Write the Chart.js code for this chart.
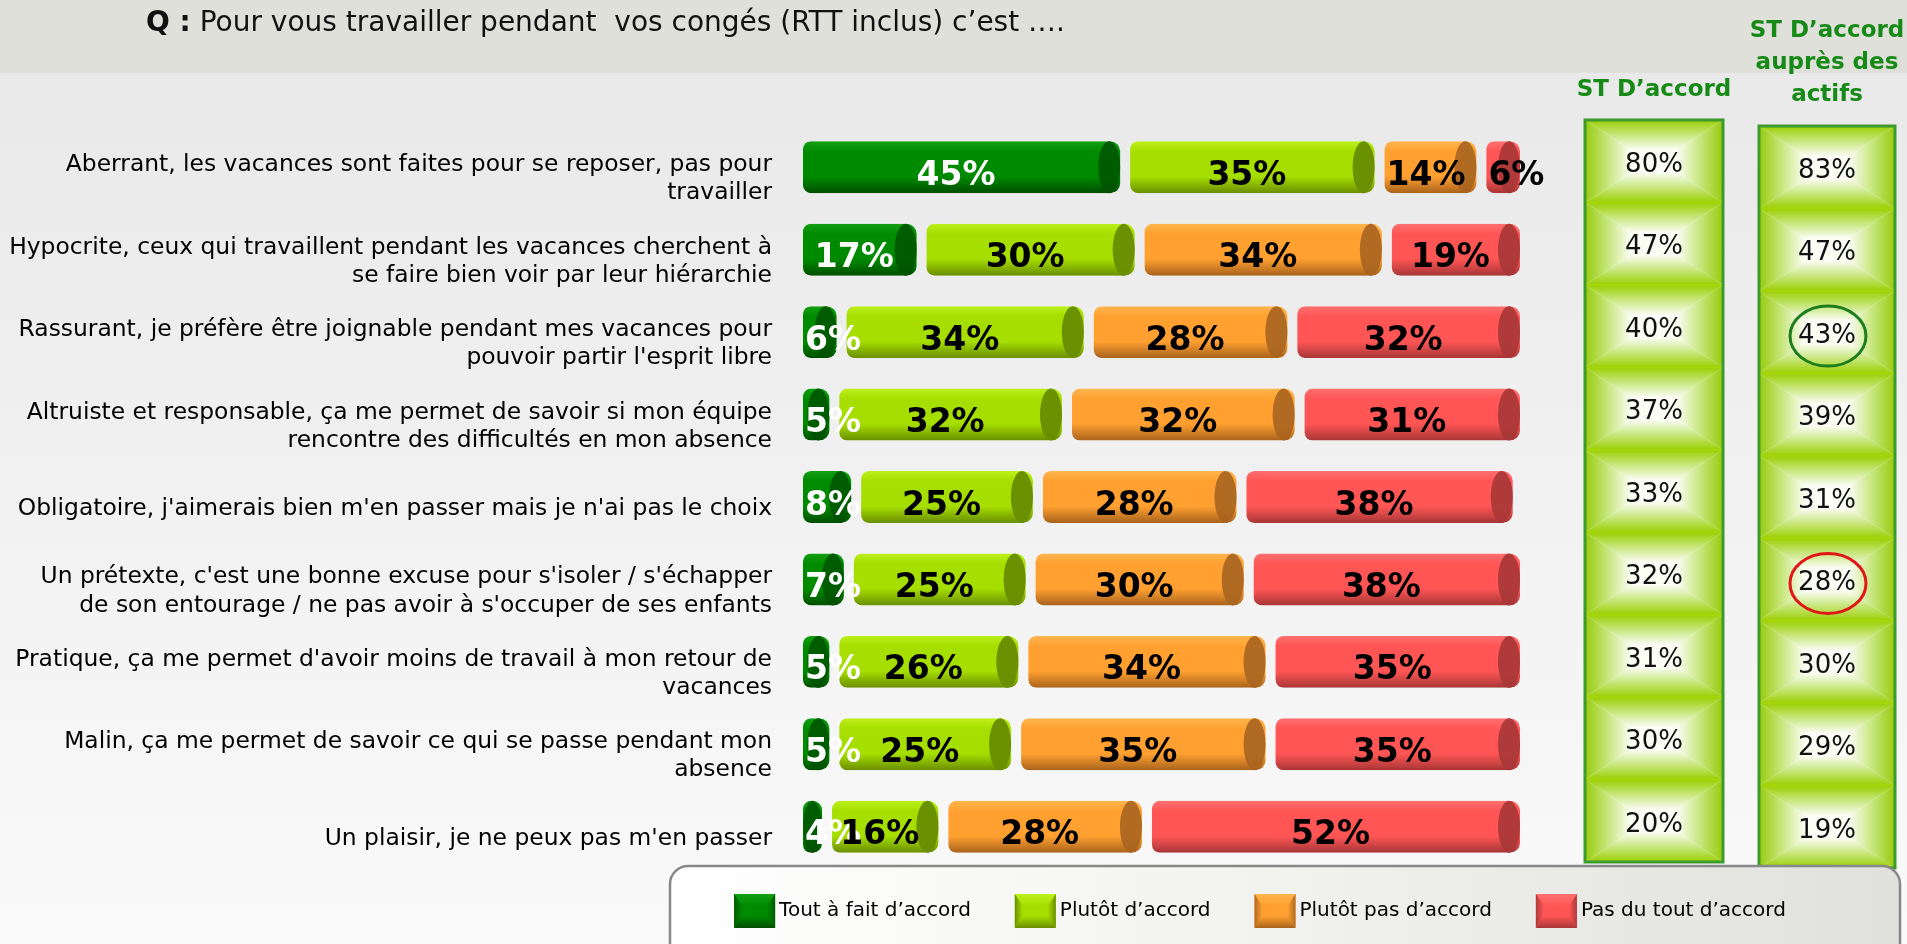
<!DOCTYPE html>
<html lang="fr">
<head>
<meta charset="utf-8">
<title>Travailler pendant ses congés</title>
<script src="https://cdn.jsdelivr.net/npm/chart.js@4/dist/chart.umd.min.js"></script>
<style>
  html, body { margin: 0; padding: 0; background: #ebebeb; overflow: hidden; }
  canvas { display: block; }
</style>
</head>
<body>
<canvas id="congesChart" width="1907" height="944"></canvas>
<script>
// --- data ---
const statements = [
  ['Aberrant, les vacances sont faites pour se reposer, pas pour', 'travailler'],
  ['Hypocrite, ceux qui travaillent pendant les vacances cherchent à', 'se faire bien voir par leur hiérarchie'],
  ['Rassurant, je préfère être joignable pendant mes vacances pour', 'pouvoir partir l\'esprit libre'],
  ['Altruiste et responsable, ça me permet de savoir si mon équipe', 'rencontre des difficultés en mon absence'],
  'Obligatoire, j\'aimerais bien m\'en passer mais je n\'ai pas le choix',
  ['Un prétexte, c\'est une bonne excuse pour s\'isoler / s\'échapper', 'de son entourage / ne pas avoir à s\'occuper de ses enfants'],
  ['Pratique, ça me permet d\'avoir moins de travail à mon retour de', 'vacances'],
  ['Malin, ça me permet de savoir ce qui se passe pendant mon', 'absence'],
  'Un plaisir, je ne peux pas m\'en passer'
];
const seriesLabels = ['Tout à fait d’accord', 'Plutôt d’accord', 'Plutôt pas d’accord', 'Pas du tout d’accord'];
const toutAFait = [45, 17, 6, 5, 8, 7, 5, 5, 4];
const plutotDaccord = [35, 30, 34, 32, 25, 25, 26, 25, 16];
const plutotPas = [14, 34, 28, 32, 28, 30, 34, 35, 28];
const pasDuTout = [6, 19, 32, 31, 38, 38, 35, 35, 52];
const stAccord = [80, 47, 40, 37, 33, 32, 31, 30, 20];
const stActifs = [83, 47, 43, 39, 31, 28, 30, 29, 19];
const circled = { 2: '#1e7d1e', 5: '#e01818' };   // row index -> ring colour (2nd column)

const titleLead = 'Q :';
const titleText = ' Pour vous travailler pendant  vos congés (RTT inclus) c’est ….';
const colHeaders = [['ST D’accord'], ['ST D’accord', 'auprès des', 'actifs']];

// cylinder colours
const palette = [
  { light: '#12a012', main: '#008a00', dark: '#004f00', cap: '#005c00', text: '#ffffff' },
  { light: '#bdf01a', main: '#a6de00', dark: '#6a8e00', cap: '#6b9000', text: '#000000' },
  { light: '#ffb64e', main: '#ffa030', dark: '#a9631c', cap: '#b06a22', text: '#000000' },
  { light: '#ff7070', main: '#ff5555', dark: '#a83636', cap: '#b03a3a', text: '#000000' }
];

const BAR_GAP = 5;
const FONT = '"DejaVu Sans", Verdana, sans-serif';

function barGradient(context, p) {
  const chart = context.chart;
  if (!chart.chartArea || context.dataIndex === undefined) return p.main;
  const yScale = chart.scales.y;
  const band = yScale.height / statements.length;
  const h = band * 0.63;
  const y = yScale.getPixelForValue(context.dataIndex);
  const g = chart.ctx.createLinearGradient(0, y - h / 2, 0, y + h / 2);
  g.addColorStop(0, p.light);
  g.addColorStop(0.2, p.main);
  g.addColorStop(0.68, p.main);
  g.addColorStop(1, p.dark);
  return g;
}

// bevelled box: four trapezoids shading from edge colour to the centre colour
function bevel(ctx, x, y, w, h, ix, iy, edges, centre, mid) {
  ctx.fillStyle = centre;
  ctx.fillRect(x, y, w, h);
  const sides = [
    { pts: [[x, y], [x + w, y], [x + w - ix, y + iy], [x + ix, y + iy]], g: [x, y, x, y + iy], c: edges.top },
    { pts: [[x, y + h], [x + w, y + h], [x + w - ix, y + h - iy], [x + ix, y + h - iy]], g: [x, y + h, x, y + h - iy], c: edges.bottom },
    { pts: [[x, y], [x + ix, y + iy], [x + ix, y + h - iy], [x, y + h]], g: [x, y, x + ix, y], c: edges.left },
    { pts: [[x + w, y], [x + w - ix, y + iy], [x + w - ix, y + h - iy], [x + w, y + h]], g: [x + w, y, x + w - ix, y], c: edges.right }
  ];
  sides.forEach(s => {
    const g = ctx.createLinearGradient(...s.g);
    g.addColorStop(0, s.c);
    if (mid) g.addColorStop(0.55, mid);
    g.addColorStop(1, centre);
    ctx.fillStyle = g;
    ctx.beginPath();
    s.pts.forEach(([px, py], k) => (k ? ctx.lineTo(px, py) : ctx.moveTo(px, py)));
    ctx.closePath();
    ctx.fill();
  });
}

const backdrop = {
  id: 'backdrop',
  beforeDraw(chart) {
    const { ctx, width, height } = chart;
    ctx.save();
    const bg = ctx.createLinearGradient(0, 73, 0, height);
    bg.addColorStop(0, '#e9e9e9');
    bg.addColorStop(1, '#fafafa');
    ctx.fillStyle = bg;
    ctx.fillRect(0, 0, width, height);
    ctx.fillStyle = '#dfe0da';
    ctx.fillRect(0, 0, width, 73);

    ctx.textBaseline = 'middle';
    ctx.textAlign = 'left';
    ctx.fillStyle = '#111';
    ctx.font = 'bold 28px ' + FONT;
    ctx.fillText(titleLead, 146, 24);
    const w = ctx.measureText(titleLead).width;
    ctx.font = '28px ' + FONT;
    ctx.fillText(titleText, 146 + w, 24);

    // column headers
    ctx.fillStyle = '#168a16';
    ctx.textAlign = 'center';
    ctx.font = 'bold 23px ' + FONT;
    const right = chart.chartArea.right;
    ctx.fillText(colHeaders[0][0], right + 129, 90);
    colHeaders[1].forEach((line, k) => ctx.fillText(line, right + 302, 31 + k * 32));
    ctx.restore();
  }
};

const cylinders = {
  id: 'cylinders',
  afterDatasetsDraw(chart) {
    const ctx = chart.ctx;
    const labels = [];
    chart.data.datasets.forEach((ds, di) => {
      const p = palette[di];
      chart.getDatasetMeta(di).data.forEach((bar, i) => {
        const { x, y, base, height } = bar.getProps(['x', 'y', 'base', 'height'], true);
        const left = Math.min(x, base) + BAR_GAP;
        const right = Math.max(x, base) - BAR_GAP;
        if (right <= left) return;
        const rx = Math.min(11, (right - left) / 2);
        ctx.save();
        const g = ctx.createLinearGradient(0, y - height / 2, 0, y + height / 2);
        g.addColorStop(0, p.cap);
        g.addColorStop(0.7, p.cap);
        g.addColorStop(1, p.dark);
        ctx.fillStyle = g;
        ctx.beginPath();
        ctx.ellipse(right - rx, y, rx, height / 2, 0, 0, Math.PI * 2);
        ctx.fill();
        ctx.restore();
        labels.push({ text: ds.data[i] + '%', left, right: right - rx, y, color: p.text });
      });
    });
    ctx.save();
    ctx.font = 'bold 33px ' + FONT;
    ctx.textAlign = 'center';
    ctx.textBaseline = 'middle';
    labels.forEach(l => {
      const tw = ctx.measureText(l.text).width;
      const cx = Math.max((l.left + l.right) / 2, l.left + tw / 2 + 2);
      ctx.fillStyle = l.color;
      ctx.fillText(l.text, cx, l.y + 9);
    });
    ctx.restore();
  }
};

const sideColumns = {
  id: 'sideColumns',
  afterDraw(chart) {
    const { ctx, chartArea } = chart;
    const yScale = chart.scales.y;
    const band = yScale.getPixelForValue(1) - yScale.getPixelForValue(0);
    const cols = [
      { values: stAccord, left: chartArea.right + 60, width: 138, shift: -6 },
      { values: stActifs, left: chartArea.right + 234, width: 136, shift: 0 }
    ];
    ctx.save();
    cols.forEach((col, ci) => {
      const cx = col.left + col.width / 2;
      col.values.forEach((v, i) => {
        const cy = yScale.getPixelForValue(i) + col.shift;
        const top = cy - band / 2;
        bevel(ctx, col.left, top, col.width, band, 46, 30,
          { top: '#9ccf04', bottom: '#9ccf04', left: '#98ca0c', right: '#98ca0c' }, '#fbfdf5', '#cde98a');
        ctx.strokeStyle = '#a6d60a';
        ctx.lineWidth = 2;
        ctx.beginPath();
        ctx.moveTo(col.left, top);
        ctx.lineTo(col.left + col.width, top);
        ctx.stroke();

        ctx.fillStyle = '#111';
        ctx.font = '26px ' + FONT;
        ctx.textAlign = 'center';
        ctx.textBaseline = 'middle';
        ctx.fillText(v + '%', cx, cy + 4);

        if (ci === 1 && circled[i]) {
          ctx.strokeStyle = circled[i];
          ctx.lineWidth = 3;
          ctx.beginPath();
          ctx.ellipse(cx + 1, cy + 4, 38, 30, 0, 0, Math.PI * 2);
          ctx.stroke();
        }
      });
      const top0 = yScale.getPixelForValue(0) + col.shift - band / 2;
      ctx.strokeStyle = '#3d9b2d';
      ctx.lineWidth = 3;
      ctx.strokeRect(col.left, top0, col.width, band * col.values.length);
    });
    ctx.restore();
  }
};

const legendBox = {
  id: 'legendBox',
  afterDraw(chart) {
    const ctx = chart.ctx;
    ctx.save();
    const lg = ctx.createLinearGradient(670, 0, 1900, 0);
    lg.addColorStop(0, '#ffffff');
    lg.addColorStop(0.45, '#f3f3f1');
    lg.addColorStop(1, '#e0e0dc');
    ctx.fillStyle = lg;
    ctx.strokeStyle = '#888888';
    ctx.lineWidth = 2.5;
    ctx.beginPath();
    ctx.roundRect(670, 866, 1230, 120, 18);
    ctx.fill();
    ctx.stroke();

    ctx.font = '20px ' + FONT;
    ctx.textBaseline = 'middle';
    ctx.textAlign = 'left';
    const items = chart.data.datasets.map(d => d.label);
    const sq = 41, textGap = 4, itemGap = 44;
    const total = items.reduce((s, t) => s + sq + textGap + ctx.measureText(t).width, 0) + itemGap * (items.length - 1);
    let x = 1260 - total / 2;
    const yMid = 911;
    items.forEach((label, i) => {
      const p = palette[i];
      bevel(ctx, x, yMid - 17, sq, 34, 8, 12,
        { top: p.light, bottom: p.dark, left: p.cap, right: p.cap }, p.main);
      ctx.fillStyle = '#000';
      ctx.fillText(label, x + sq + textGap, yMid);
      x += sq + textGap + ctx.measureText(label).width + itemGap;
    });
    ctx.restore();
  }
};

new Chart(document.getElementById('congesChart'), {
  type: 'bar',
  data: {
    labels: statements,
    datasets: [toutAFait, plutotDaccord, plutotPas, pasDuTout].map((values, i) => ({
      label: seriesLabels[i],
      data: values,
      backgroundColor: (context) => barGradient(context, palette[i]),
      borderColor: 'rgba(0,0,0,0)',
      borderWidth: { left: BAR_GAP, right: BAR_GAP, top: 0, bottom: 0 },
      borderSkipped: false,
      borderRadius: { topLeft: 13, bottomLeft: 13, topRight: 15, bottomRight: 15 },
      barPercentage: 0.63,
      categoryPercentage: 1
    }))
  },
  options: {
    indexAxis: 'y',
    responsive: false,
    animation: false,
    layout: { padding: { top: 126, bottom: 76, left: 0, right: 382 } },
    plugins: {
      legend: { display: false },
      tooltip: { enabled: false }
    },
    scales: {
      x: { stacked: true, min: 0, max: 100, display: false },
      y: {
        stacked: true,
        grid: { display: false, drawTicks: false },
        border: { display: false },
        ticks: {
          color: '#000000',
          font: { family: FONT, size: 23.4 },
          padding: 26,
          labelOffset: 12
        },
        afterFit: (scale) => { scale.width = 798; }
      }
    }
  },
  plugins: [backdrop, cylinders, sideColumns, legendBox]
});
</script>
</body>
</html>
